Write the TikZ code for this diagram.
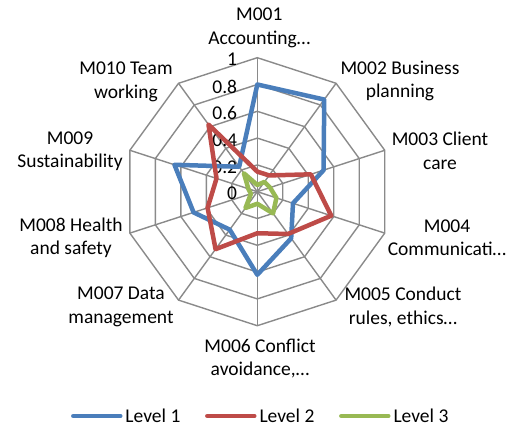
\documentclass[tikz,border=0pt]{standalone}
\usepackage{fontspec}
\setmainfont{Carlito}
\usetikzlibrary{positioning}
\definecolor{gridgray}{HTML}{8A8A8A}
\definecolor{levelone}{HTML}{4A7EBB}
\definecolor{leveltwo}{HTML}{BE4B48}
\definecolor{levelthree}{HTML}{98B954}
\newcommand{\chartfont}{\fontsize{19.5}{23.4}\selectfont}
\tikzset{%
    gridline/.style={%
        draw=gridgray, line width=1.4pt
    },
    series/.style={%
        line width=4.5pt, line join=round
    },
    axislabel/.style={%
        align=center, font=\chartfont, inner sep=0pt
    },
    ticklabel/.style={%
        anchor=east, font=\chartfont, inner sep=0pt
    },
    keyline/.style={%
        line width=4.5pt, line cap=round
    },
    keytext/.style={%
        anchor=west, font=\chartfont, inner sep=0pt
    },
}

\begin{document}
\begin{tikzpicture}[x=1pt,y=1pt]

    \useasboundingbox (-257.3,-239.3) rectangle (258.7,191.7);

    % grid
    \coordinate (centre) at (0,0);
    \foreach \i in {0,...,9}
      \coordinate (axis\i) at (90-36*\i:134pt);
    \foreach \k in {1,...,5}{
      \draw[gridline] (90:\k*26.8pt) \foreach \i in {1,...,9}{ -- (90-36*\i:\k*26.8pt)} -- cycle;
    }
    \foreach \i in {0,...,9}
      \draw[gridline] (centre) -- (axis\i);

    \foreach \t [count=\k from 0] in {0,0.2,0.4,0.6,0.8,1}
      \node[ticklabel] (tick\k) at (-20,\k*26.8-2) {\t};

    % series
    \foreach \v [count=\i from 0] in {0.8,0.85,0.52,0.28,0.43,0.62,0.35,0.5,0.65,0.23}
      \coordinate (one\i) at (90-36*\i:\v*134pt);
    \foreach \v [count=\i from 0] in {0.15,0.15,0.42,0.58,0.39,0.31,0.53,0.39,0.32,0.62}
      \coordinate (two\i) at (90-36*\i:\v*134pt);
    \foreach \v [count=\i from 0] in {0.05,0.09,0.1,0.15,0.2,0.09,0.15,0.05,0.07,0.17}
      \coordinate (three\i) at (90-36*\i:\v*134pt);

    \draw[series, levelone] (one0) \foreach \i in {1,...,9}{ -- (one\i)} -- cycle;
    \draw[series, leveltwo] (two0) \foreach \i in {1,...,9}{ -- (two\i)} -- cycle;
    \draw[series, levelthree] (three0) \foreach \i in {1,...,9}{ -- (three\i)} -- cycle;

    % category labels
    \node[axislabel] (cat1) at (2,163.7) {M001\\Accounting…};
    \node[axislabel] (cat2) at (142.7,111) {M002 Business\\planning};
    \node[axislabel] (cat3) at (182.7,40.7) {M003 Client\\care};
    \node[axislabel] (cat4) at (189.7,-45.8) {M004\\Communicati…};
    \node[axislabel] (cat5) at (145.7,-115.3) {M005 Conduct\\rules, ethics…};
    \node[axislabel] (cat6) at (2.7,-166.8) {M006 Conflict\\avoidance,…};
    \node[axislabel] (cat7) at (-136.3,-115.3) {M007 Data\\management};
    \node[axislabel] (cat8) at (-186.3,-45.8) {M008 Health\\and safety};
    \node[axislabel] (cat9) at (-187.3,40.7) {M009\\Sustainability};
    \node[axislabel] (cat10) at (-131.3,110) {M010 Team\\working};

    % legend
    \coordinate (keyone) at (-184,-224.3);
    \coordinate[right=47pt of keyone] (keyoneend);
    \draw[keyline, levelone] (keyone) -- (keyoneend);
    \node[keytext, right=5pt of keyoneend] (textone) {Level 1};

    \coordinate (keytwo) at (-50,-224.3);
    \coordinate[right=47pt of keytwo] (keytwoend);
    \draw[keyline, leveltwo] (keytwo) -- (keytwoend);
    \node[keytext, right=5pt of keytwoend] (texttwo) {Level 2};

    \coordinate (keythree) at (84,-224.3);
    \coordinate[right=47pt of keythree] (keythreeend);
    \draw[keyline, levelthree] (keythree) -- (keythreeend);
    \node[keytext, right=5pt of keythreeend] (textthree) {Level 3};

\end{tikzpicture}
\end{document}
